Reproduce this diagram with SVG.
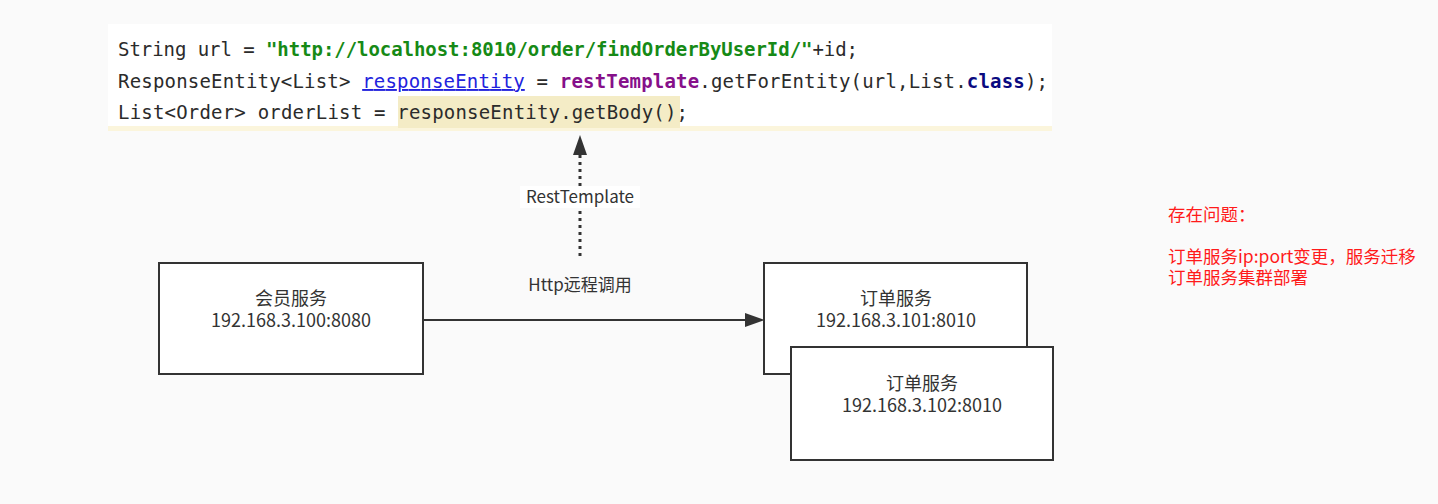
<svg xmlns="http://www.w3.org/2000/svg" width="1438" height="504" viewBox="0 0 1438 504">
<style>
.code{font-family:"DejaVu Sans Mono","Liberation Mono",monospace;font-size:19px;fill:#2b2b2b}
.str{fill:#168a16;font-weight:bold}
.var{fill:#2222dd;text-decoration:underline}
.fld{fill:#86108a;font-weight:bold}
.kw{fill:#0a0a80;font-weight:bold}
.node rect{fill:#ffffff;stroke:#333333;stroke-width:2}
.lbl{font-family:"Noto Sans CJK SC","Noto Sans",sans-serif;font-size:18px;fill:#333333;text-anchor:middle}
.edge{font-family:"Noto Sans CJK SC","Noto Sans",sans-serif;font-size:17px;fill:#333333;text-anchor:middle}
.note{font-family:"Noto Sans CJK SC","Noto Sans",sans-serif;font-size:17.5px;fill:#ff1a1a}
</style>
<rect width="1438" height="504" fill="#fafafa"/>
<g id="code">
<rect x="108" y="24" width="944" height="106" fill="#ffffff"/>
<rect x="108" y="126" width="944" height="5" fill="#fbf5dc"/>
<rect x="398" y="96" width="282" height="32" fill="#f4ecc6"/>
<text class="code" x="118" y="56" textLength="740" lengthAdjust="spacing">String url = <tspan class="str">"http://localhost:8010/order/findOrderByUserId/"</tspan>+id;</text>
<text class="code" x="118" y="88" textLength="930" lengthAdjust="spacing">ResponseEntity&lt;List&gt; <tspan class="var">responseEntity</tspan> = <tspan class="fld">restTemplate</tspan>.getForEntity(url,List.<tspan class="kw">class</tspan>);</text>
<text class="code" x="118" y="119" textLength="570" lengthAdjust="spacing">List&lt;Order&gt; orderList = responseEntity.getBody();</text>
</g>
<g id="connectors">
<line x1="580" y1="256" x2="580" y2="152" stroke="#333333" stroke-width="3" stroke-dasharray="3 4"/>
<path d="M573,155 L580,135 L587,155 Z" fill="#333333"/>
<rect x="520" y="186" width="120" height="22" fill="#ffffff"/>
<text class="edge" x="580" y="203">RestTemplate</text>
<text class="edge" x="580" y="291">Http远程调用</text>
<line x1="423" y1="320" x2="748" y2="320" stroke="#333333" stroke-width="2"/>
<path d="M745,313 L765,320 L745,327 Z" fill="#333333"/>
</g>
<g id="member" class="node">
<rect x="159" y="263" width="264" height="111"/>
<text class="lbl" x="291" y="305">会员服务<tspan x="291" dy="22">192.168.3.100:8080</tspan></text>
</g>
<g id="order1" class="node">
<rect x="764" y="263" width="263" height="111"/>
<text class="lbl" x="896" y="305">订单服务<tspan x="896" dy="22">192.168.3.101:8010</tspan></text>
</g>
<g id="order2" class="node">
<rect x="791" y="347" width="262" height="113"/>
<text class="lbl" x="922" y="390">订单服务<tspan x="922" dy="22">192.168.3.102:8010</tspan></text>
</g>
<g id="note">
<text class="note" x="1168" y="221">存在问题：<tspan x="1168" dy="42">订单服务ip:port变更，服务迁移</tspan><tspan x="1168" dy="21">订单服务集群部署</tspan></text>
</g>
</svg>
